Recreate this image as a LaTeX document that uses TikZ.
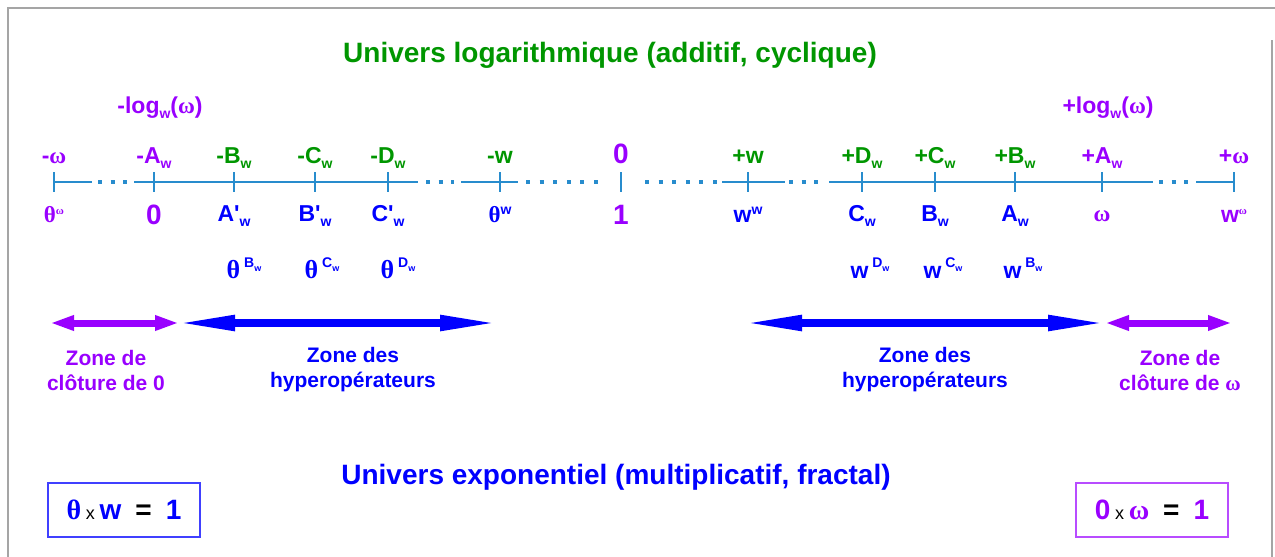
\documentclass[tikz,border=0pt]{standalone}
\usepackage{fontspec}
\setmainfont{Liberation Sans}
\newfontfamily\symf{Liberation Serif}
\usetikzlibrary{arrows.meta}
\definecolor{cgreen}{RGB}{0,150,0}
\definecolor{cpurple}{RGB}{153,0,255}
\definecolor{cblue}{RGB}{0,0,255}
\definecolor{caxis}{RGB}{40,140,205}
\definecolor{cframe}{RGB}{165,165,165}
\newcommand{\fT}{\fontsize{28}{30}\selectfont}
\newcommand{\fL}{\fontsize{23}{25}\selectfont}
\newcommand{\fBig}{\fontsize{28}{30}\selectfont}
\newcommand{\fZ}{\fontsize{21}{25}\selectfont}
\newcommand{\fS}{\fontsize{14}{14}\selectfont}
\newcommand{\thet}{{\symf\bfseries θ}}
\newcommand{\omg}{{\symf\bfseries ω}}
\newcommand{\prm}{\textquotesingle}
\newcommand{\lsb}[1]{\raisebox{-5pt}{\fS #1}}
\newcommand{\lsp}[1]{\raisebox{8pt}{\fS #1}}
\newcommand{\esp}[2]{\,\raisebox{11pt}{\fS #1\raisebox{-4pt}{\fontsize{9}{9}\selectfont #2}}}
\begin{document}
\begin{tikzpicture}[x=1pt,y=-1pt,
  every node/.style={inner sep=0pt, font=\bfseries},
  lab/.style={anchor=base, font=\bfseries\fL},
  big/.style={anchor=base, font=\bfseries\fBig},
  zonetxt/.style={anchor=center, align=center, font=\bfseries\fZ},
  axisline/.style={draw=caxis, line width=2pt},
  axisdots/.style={draw=caxis, line width=3.5pt, dash pattern=on 4pt off 8.5pt},
  tickmark/.style={draw=caxis, line width=1.5pt},
  zonepurple/.style={draw=cpurple, line width=7pt, {Triangle[length=24pt,width=14pt]}-{Triangle[length=24pt,width=14pt]}},
  zoneblue/.style={draw=cblue, line width=8pt, {Triangle[length=62pt,width=14pt]}-{Triangle[length=62pt,width=14pt]}},
  eqbox/.style={draw, line width=1.5pt, minimum width=152pt, minimum height=54pt, anchor=center, font=\bfseries\fBig}
]
\useasboundingbox (0,0) rectangle (1275,557);
\fill[white] (0,0) rectangle (1275,557);
% frame
\coordinate (f1) at (8,557);
\coordinate (f2) at (8,8);
\coordinate (f3) at (1275,8);
\coordinate (f4) at (1272,40);
\coordinate (f5) at (1272,557);
\draw[cframe, line width=2pt] (f1) -- (f2) -- (f3);
\draw[cframe, line width=2pt] (f4) -- (f5);

% titles
\node[anchor=base, font=\bfseries\fT, text=cgreen] (t1) at (610,62) {Univers logarithmique (additif, cyclique)};
\node[anchor=base, font=\bfseries\fT, text=cblue] (t2) at (616,484) {Univers exponentiel (multiplicatif, fractal)};

% log labels
\node[lab, text=cpurple] (lgm) at (160,113) {-log\lsb{w}(\omg)};
\node[lab, text=cpurple] (lgp) at (1108,113) {+log\lsb{w}(\omg)};

% axis segments
\foreach \a/\b [count=\i] in {54/92, 134/418, 461/518, 722/785, 829/1153, 1196/1234}{
  \coordinate (sa\i) at (\a,182);
  \coordinate (sb\i) at (\b,182);
  \draw[axisline] (sa\i) -- (sb\i);
}
\foreach \a/\b [count=\i] in {98/128, 426/454, 789/821, 1159/1191}{
  \coordinate (da\i) at (\a,182);
  \coordinate (db\i) at (\b,182);
  \draw[axisdots] (da\i) -- (db\i);
}
\coordinate (dc1) at (526,182); \coordinate (dd1) at (599,182);
\draw[axisdots, dash pattern=on 4pt off 9.6pt] (dc1) -- (dd1);
\coordinate (dc2) at (645,182); \coordinate (dd2) at (718,182);
\draw[axisdots, dash pattern=on 4pt off 9.6pt] (dc2) -- (dd2);
% ticks
\foreach \x [count=\i] in {54,154,234,315,388,500,621,748,862,935,1015,1102,1234}{
  \coordinate (ku\i) at (\x,172);
  \coordinate (kd\i) at (\x,192);
  \draw[tickmark] (ku\i) -- (kd\i);
}

% top labels
\node[lab, text=cpurple] (u1) at (54,163) {-\omg};
\node[lab, text=cpurple] (u2) at (154,163) {-A\lsb{w}};
\node[lab, text=cgreen] (u3) at (234,163) {-B\lsb{w}};
\node[lab, text=cgreen] (u4) at (315,163) {-C\lsb{w}};
\node[lab, text=cgreen] (u5) at (388,163) {-D\lsb{w}};
\node[lab, text=cgreen] (u6) at (500,163) {-w};
\node[big, text=cpurple] (u7) at (621,163) {0};
\node[lab, text=cgreen] (u8) at (748,163) {+w};
\node[lab, text=cgreen] (u9) at (862,163) {+D\lsb{w}};
\node[lab, text=cgreen] (u10) at (935,163) {+C\lsb{w}};
\node[lab, text=cgreen] (u11) at (1015,163) {+B\lsb{w}};
\node[lab, text=cpurple] (u12) at (1102,163) {+A\lsb{w}};
\node[lab, text=cpurple] (u13) at (1234,163) {+\omg};

% bottom labels
\node[lab, text=cpurple] (b1) at (54,222) {\thet\lsp{\fontsize{11}{11}\selectfont\omg}};
\node[big, text=cpurple] (b2) at (154,224) {0};
\node[lab, text=cblue] (b3) at (234,221) {A\prm\lsb{w}};
\node[lab, text=cblue] (b4) at (315,221) {B\prm\lsb{w}};
\node[lab, text=cblue] (b5) at (388,221) {C\prm\lsb{w}};
\node[lab, text=cblue] (b6) at (500,222) {\thet\lsp{w}};
\node[big, text=cpurple] (b7) at (621,224) {1};
\node[lab, text=cblue] (b8) at (748,222) {w\lsp{w}};
\node[lab, text=cblue] (b9) at (862,221) {C\lsb{w}};
\node[lab, text=cblue] (b10) at (935,221) {B\lsb{w}};
\node[lab, text=cblue] (b11) at (1015,221) {A\lsb{w}};
\node[lab, text=cpurple] (b12) at (1102,221) {\omg};
\node[lab, text=cpurple] (b13) at (1234,222) {w\lsp{\fontsize{11}{11}\selectfont\omg}};

% exponent row
\node[lab, text=cblue] (e1) at (244,278) {{\fontsize{26}{28}\selectfont\thet}\esp{B}{w}};
\node[lab, text=cblue] (e2) at (322,278) {{\fontsize{26}{28}\selectfont\thet}\esp{C}{w}};
\node[lab, text=cblue] (e3) at (398,278) {{\fontsize{26}{28}\selectfont\thet}\esp{D}{w}};
\node[lab, text=cblue] (e4) at (870,278) {w\esp{D}{w}};
\node[lab, text=cblue] (e5) at (943,278) {w\esp{C}{w}};
\node[lab, text=cblue] (e6) at (1023,278) {w\esp{B}{w}};

% zone arrows
\coordinate (za1) at (50,323); \coordinate (za2) at (179,323);
\coordinate (zb1) at (173,323); \coordinate (zb2) at (502,323);
\coordinate (zc1) at (740,323); \coordinate (zc2) at (1110,323);
\coordinate (zd1) at (1105,323); \coordinate (zd2) at (1232,323);
\draw[zonepurple] (za1) -- (za2);
\draw[zoneblue] (zb1) -- (zb2);
\draw[zoneblue] (zc1) -- (zc2);
\draw[zonepurple] (zd1) -- (zd2);

% zone texts
\node[zonetxt, text=cpurple] (z1) at (106,370) {Zone de\\clôture de 0};
\node[zonetxt, text=cblue] (z2) at (353,370) {Zone des\\hyperopérateurs};
\node[zonetxt, text=cblue] (z3) at (925,370) {Zone des\\hyperopérateurs};
\node[zonetxt, text=cpurple] (z4) at (1180,370) {Zone de\\clôture de \omg};

% equation boxes
\node[eqbox, draw=cblue!75] (q1) at (124,510) {{\color{cblue}\thet}\,{\fontsize{18}{18}\selectfont\mdseries x}\,{\color{cblue}w}\enspace=\enspace{\color{cblue}1}};
\node[eqbox, draw=cpurple!70] (q2) at (1152,510) {{\color{cpurple}0}\,{\fontsize{18}{18}\selectfont\mdseries x}\,{\color{cpurple}\omg}\enspace=\enspace{\color{cpurple}1}};
\end{tikzpicture}
\end{document}
